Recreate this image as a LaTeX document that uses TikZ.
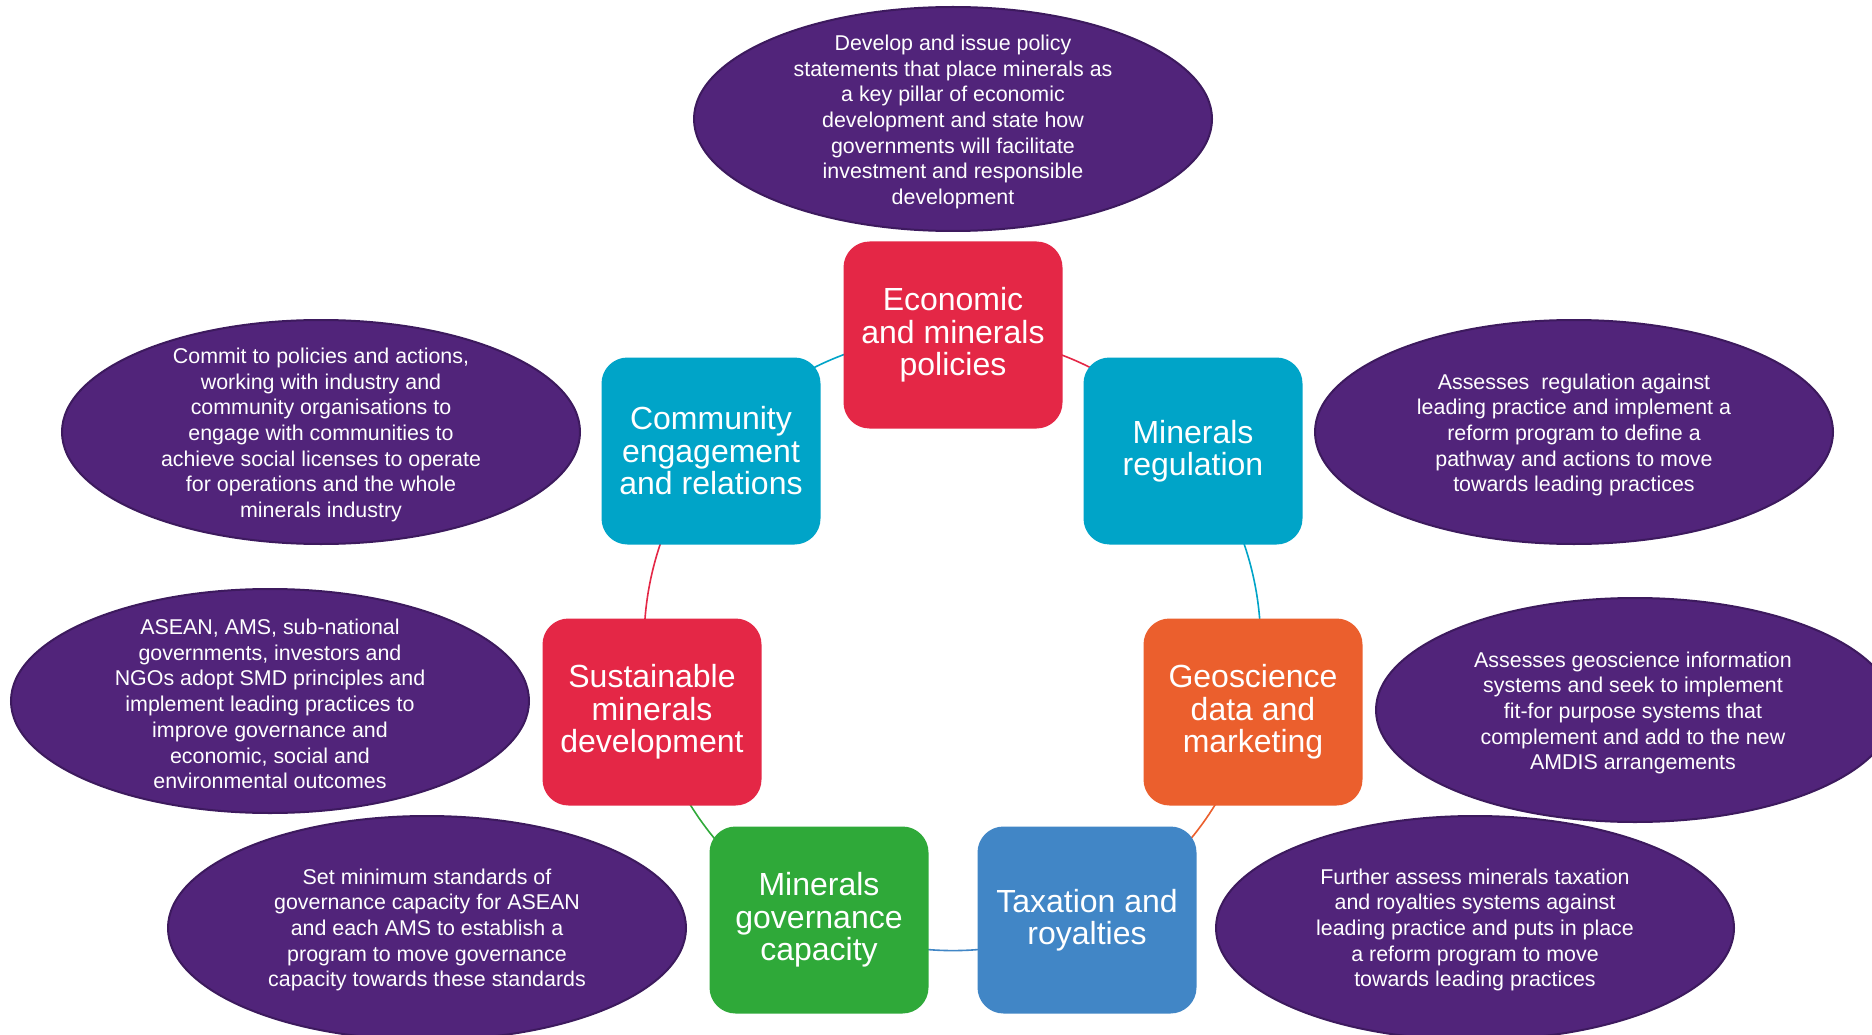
\documentclass[tikz,border=0pt]{standalone}
\usepackage{fontspec}
\setmainfont{Liberation Sans}
\usetikzlibrary{shapes.geometric}
\pgfdeclarelayer{paper}
\pgfdeclarelayer{background}
\pgfsetlayers{paper,background,main}
\definecolor{cRed}{HTML}{E42746}
\definecolor{cCyan}{HTML}{00A4C8}
\definecolor{cOrange}{HTML}{EB5F2D}
\definecolor{cGreen}{HTML}{2FA939}
\definecolor{cBlue}{HTML}{4186C6}
\definecolor{cPurple}{HTML}{51247A}
\definecolor{cPurpleDark}{HTML}{3D1A5E}
\tikzset{
  ell/.style={ellipse, draw=cPurpleDark, line width=2pt, fill=cPurple,
    minimum width=518pt, minimum height=224pt, inner sep=0pt},
  elltext/.style={text=white, align=center, inner sep=0pt,
    font=\fontsize{21.4}{25.7}\selectfont},
  box/.style={rectangle, rounded corners=26pt, minimum width=219pt,
    minimum height=187pt, text=white, align=center, inner sep=0pt,
    font=\fontsize{32}{32.5}\selectfont},
  conn/.style={line width=1.6pt, bend left=25.7, looseness=0.9}
}
\begin{document}
\begin{tikzpicture}[x=1pt, y=-1pt]
\useasboundingbox (0,0) rectangle (1872,1035);
\clip (0,0) rectangle (1872,1035);
\begin{pgfonlayer}{paper}
\fill[white] (0,0) rectangle (1872,1035);
\end{pgfonlayer}

% ellipses
\node[ell] (eTop) at (953,119) {};
\node[elltext] (tTop) at (953,122) {Develop and issue policy\\statements that place minerals as\\a key pillar of economic\\development and state how\\governments will facilitate\\investment and responsible\\development};
\node[ell] (eLU) at (321,432) {};
\node[elltext] (tLU) at (321,435) {Commit to policies and actions,\\working with industry and\\community organisations to\\engage with communities to\\achieve social licenses to operate\\for operations and the whole\\minerals industry};
\node[ell] (eRU) at (1574,432) {};
\node[elltext] (tRU) at (1574,435) {Assesses\ \ regulation against\\leading practice and implement a\\reform program to define a\\pathway and actions to move\\towards leading practices};
\node[ell] (eLM) at (270,701) {};
\node[elltext] (tLM) at (270,704) {ASEAN, AMS, sub-national\\governments, investors and\\NGOs adopt SMD principles and\\implement leading practices to\\improve governance and\\economic, social and\\environmental outcomes};
\node[ell] (eRM) at (1635,710) {};
\node[elltext] (tRM) at (1633,713) {Assesses geoscience information\\systems and seek to implement\\fit-for purpose systems that\\complement and add to the new\\AMDIS arrangements};
\node[ell] (eLB) at (427,928) {};
\node[elltext] (tLB) at (427,930) {Set minimum standards of\\governance capacity for ASEAN\\and each AMS to establish a\\program to move governance\\capacity towards these standards};
\node[ell] (eRB) at (1475,928) {};
\node[elltext] (tRB) at (1475,930) {Further assess minerals taxation\\and royalties systems against\\leading practice and puts in place\\a reform program to move\\towards leading practices};

% boxes
\node[box, fill=cRed] (bEco) at (953,335) {Economic\\and minerals\\policies};
\node[box, fill=cCyan] (bCom) at (711,451) {Community\\engagement\\and relations};
\node[box, fill=cCyan] (bReg) at (1193,451) {Minerals\\regulation};
\node[box, fill=cRed] (bSus) at (652,712) {Sustainable\\minerals\\development};
\node[box, fill=cOrange] (bGeo) at (1253,712) {Geoscience\\data and\\marketing};
\node[box, fill=cGreen] (bGov) at (819,920) {Minerals\\governance\\capacity};
\node[box, fill=cBlue] (bTax) at (1087,920) {Taxation and\\royalties};

% connectors (arcs of the ring, behind the boxes)
\begin{pgfonlayer}{background}
\draw[conn, cRed] (bEco.center) to (bReg.center);
\draw[conn, cCyan] (bReg.center) to (bGeo.center);
\draw[conn, cOrange] (bGeo.center) to (bTax.center);
\draw[conn, cBlue] (bTax.center) to (bGov.center);
\draw[conn, cGreen] (bGov.center) to (bSus.center);
\draw[conn, cRed] (bSus.center) to (bCom.center);
\draw[conn, cCyan] (bCom.center) to (bEco.center);
\end{pgfonlayer}
\end{tikzpicture}
\end{document}
